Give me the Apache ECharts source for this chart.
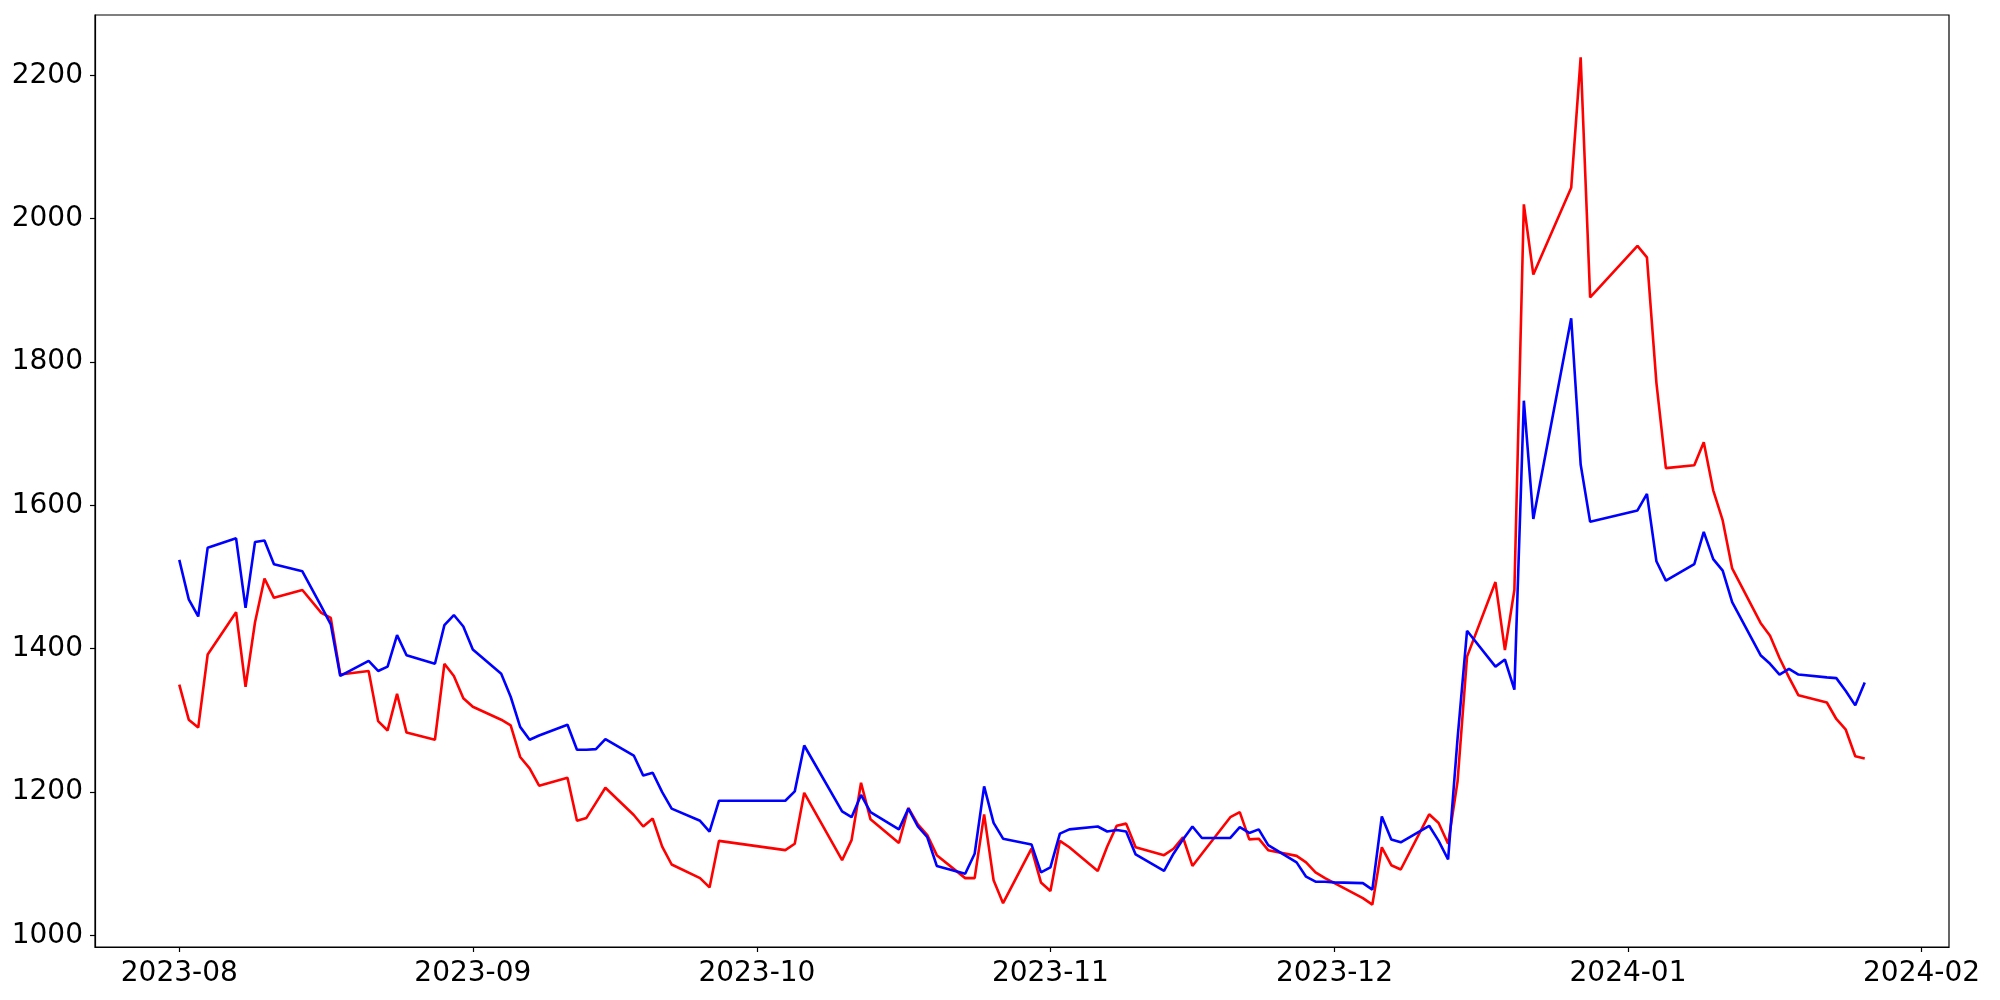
<!DOCTYPE html>
<html>
<head>
<meta charset="utf-8">
<script src="https://cdn.jsdelivr.net/npm/echarts@6/dist/echarts.min.js"></script>
<style>
  html, body { margin: 0; padding: 0; background: #fff; }
  #chart { width: 2000px; height: 1000px; }
</style>
</head>
<body>
<div id="chart"></div>
<script>
// Trading dates (Korean market calendar)
const dates = [
  '2023-08-01','2023-08-02','2023-08-03','2023-08-04','2023-08-07','2023-08-08','2023-08-09','2023-08-10','2023-08-11','2023-08-14','2023-08-16','2023-08-17','2023-08-18','2023-08-21','2023-08-22','2023-08-23','2023-08-24','2023-08-25','2023-08-28','2023-08-29','2023-08-30','2023-08-31',
  '2023-09-01','2023-09-04','2023-09-05','2023-09-06','2023-09-07','2023-09-08','2023-09-11','2023-09-12','2023-09-13','2023-09-14','2023-09-15','2023-09-18','2023-09-19','2023-09-20','2023-09-21','2023-09-22','2023-09-25','2023-09-26','2023-09-27',
  '2023-10-04','2023-10-05','2023-10-06','2023-10-10','2023-10-11','2023-10-12','2023-10-13','2023-10-16','2023-10-17','2023-10-18','2023-10-19','2023-10-20','2023-10-23','2023-10-24','2023-10-25','2023-10-26','2023-10-27','2023-10-30','2023-10-31',
  '2023-11-01','2023-11-02','2023-11-03','2023-11-06','2023-11-07','2023-11-08','2023-11-09','2023-11-10','2023-11-13','2023-11-14','2023-11-15','2023-11-16','2023-11-17','2023-11-20','2023-11-21','2023-11-22','2023-11-23','2023-11-24','2023-11-27','2023-11-28','2023-11-29','2023-11-30',
  '2023-12-01','2023-12-04','2023-12-05','2023-12-06','2023-12-07','2023-12-08','2023-12-11','2023-12-12','2023-12-13','2023-12-14','2023-12-15','2023-12-18','2023-12-19','2023-12-20','2023-12-21','2023-12-22','2023-12-26','2023-12-27','2023-12-28',
  '2024-01-02','2024-01-03','2024-01-04','2024-01-05','2024-01-08','2024-01-09','2024-01-10','2024-01-11','2024-01-12','2024-01-15','2024-01-16','2024-01-17','2024-01-18','2024-01-19','2024-01-22','2024-01-23','2024-01-24','2024-01-25','2024-01-26'
];

const redValues = [
  1350,1301,1290,1392,1451,1347,1437,1498,1471,1482,1450,1443,1364,1369,1299,1286,1337,1283,1273,1379,1362,1331,
  1319,1301,1293,1249,1233,1209,1220,1160,1164,1185,1206,1168,1152,1163,1124,1099,1080,1067,1132,
  1119,1128,1199,1105,1133,1213,1162,1129,1178,1155,1140,1112,1080,1080,1169,1077,1045,1121,1074,
  1062,1132,1123,1090,1124,1153,1156,1123,1112,1121,1137,1097,1114,1165,1172,1134,1135,1119,1111,1102,1088,1080,
  1073,1052,1043,1123,1098,1092,1169,1157,1128,1215,1389,1493,1398,1482,2020,1922,2043,2225,1890,
  1962,1946,1771,1652,1656,1688,1621,1579,1512,1436,1418,1387,1360,1335,1325,1302,1287,1250,1247
];

const blueValues = [
  1524,1469,1445,1541,1554,1457,1549,1551,1518,1508,1459,1434,1362,1383,1369,1375,1419,1391,1379,1433,1447,1431,
  1399,1365,1333,1291,1273,1279,1294,1259,1259,1260,1274,1251,1223,1227,1200,1177,1160,1145,1188,
  1188,1201,1265,1173,1165,1196,1172,1148,1177,1152,1137,1097,1086,1114,1208,1157,1135,1127,1088,
  1095,1142,1148,1152,1145,1147,1145,1113,1090,1114,1134,1152,1136,1136,1151,1143,1148,1126,1102,1082,1075,1075,
  1074,1073,1064,1166,1134,1130,1153,1132,1106,1275,1425,1375,1385,1343,1746,1581,1861,1657,1577,
  1593,1616,1522,1495,1518,1563,1525,1509,1465,1391,1379,1364,1372,1364,1360,1359,1341,1321,1353
];

const xTickLabels = ['2023-08','2023-09','2023-10','2023-11','2023-12','2024-01','2024-02'];
const yTickLabels = [1000, 1200, 1400, 1600, 1800, 2000, 2200];

function toTs(s) {
  const p = s.split('-').map(Number);
  return Date.UTC(p[0], p[1] - 1, p[2] || 1);
}

const tsList = dates.map(toTs);
const xMin = tsList[0], xMax = tsList[tsList.length - 1];
const xPad = (xMax - xMin) * 0.05;
const allVals = redValues.concat(blueValues);
const yLo = Math.min.apply(null, allVals), yHi = Math.max.apply(null, allVals);
const yPad = (yHi - yLo) * 0.05;

const xTickTs = xTickLabels.map(toTs);

const font = 'DejaVu Sans';
const chart = echarts.init(document.getElementById('chart'), null, { renderer: 'canvas' });
chart.setOption({
  animation: false,
  backgroundColor: '#ffffff',
  grid: {
    left: 95, right: 51, top: 15, bottom: 53,
    show: true, borderColor: '#000', borderWidth: 1.2, backgroundColor: 'transparent'
  },
  xAxis: {
    type: 'value',
    min: xMin - xPad,
    max: xMax + xPad,
    splitLine: { show: false },
    axisLine: { show: true, onZero: false, lineStyle: { color: '#000', width: 1.2 } },
    axisTick: { show: true, inside: false, length: 5, lineStyle: { color: '#000', width: 1.2 }, customValues: xTickTs },
    axisLabel: {
      customValues: xTickTs,
      showMinLabel: true, showMaxLabel: true,
      color: '#000', fontFamily: font, fontSize: 28, margin: 13,
      formatter: function (v) {
        const d = new Date(v);
        const m = d.getUTCMonth() + 1;
        return d.getUTCFullYear() + '-' + (m < 10 ? '0' + m : m);
      }
    }
  },
  yAxis: {
    type: 'value',
    min: yLo - yPad,
    max: yHi + yPad,
    splitLine: { show: false },
    axisLine: { show: true, onZero: false, lineStyle: { color: '#000', width: 1.2 } },
    axisTick: { show: true, inside: false, length: 5, lineStyle: { color: '#000', width: 1.2 }, customValues: yTickLabels },
    axisLabel: {
      customValues: yTickLabels,
      color: '#000', fontFamily: font, fontSize: 28, margin: 12,
      formatter: function (v) { return String(Math.round(v)); }
    }
  },
  series: [
    {
      name: 'red', type: 'line', showSymbol: false, symbol: 'none',
      data: tsList.map((t, i) => [t, redValues[i]]),
      lineStyle: { color: '#ff0000', width: 2.6 }, itemStyle: { color: '#ff0000' },
      z: 2
    },
    {
      name: 'blue', type: 'line', showSymbol: false, symbol: 'none',
      data: tsList.map((t, i) => [t, blueValues[i]]),
      lineStyle: { color: '#0000ff', width: 2.6 }, itemStyle: { color: '#0000ff' },
      z: 3
    }
  ]
});
</script>
</body>
</html>
